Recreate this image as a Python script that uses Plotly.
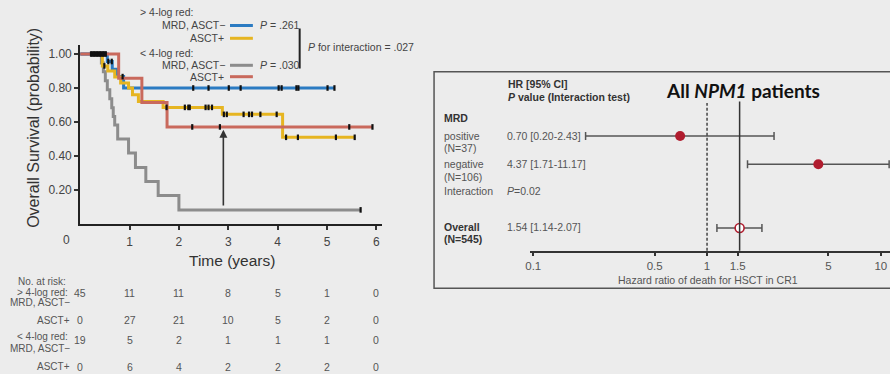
import numpy as np
import plotly.graph_objects as go

W, H = 890, 374
BG = "#ececec"
SANS = "Liberation Sans, Arial, sans-serif"

# ---------------- Kaplan-Meier data ----------------
blue_t = [0.0, 0.55, 0.65, 0.74, 0.88, 5.15]
blue_s = [1.0, 0.956, 0.911, 0.867, 0.800, 0.800]
blue_cens = [0.22, 0.25, 0.28, 0.31, 0.34, 0.37, 0.40, 0.43, 0.46, 0.49, 0.52,
             0.57, 0.64, 0.86, 2.29, 2.60, 3.01, 3.25, 4.02, 4.08, 4.38, 4.42, 5.01, 5.15]

yellow_t = [0.44, 0.45, 0.56, 0.70, 0.82, 0.98, 1.06, 1.18, 1.68, 2.88, 4.10, 5.56]
yellow_s = [1.0, 0.93, 0.90, 0.865, 0.83, 0.80, 0.76, 0.72, 0.686, 0.645, 0.51, 0.51]
yellow_cens = [0.49, 1.75, 2.12, 2.19, 2.22, 2.54, 2.60, 2.67, 2.91, 2.97, 3.31, 3.42,
               3.48, 3.65, 3.98, 4.17, 4.41, 5.18, 5.56]

gray_t = [0.0, 0.43, 0.47, 0.51, 0.55, 0.60, 0.64, 0.67, 0.70, 0.76, 0.98, 1.12,
          1.33, 1.58, 2.0, 5.68]
gray_s = [1.0, 0.947, 0.895, 0.842, 0.789, 0.737, 0.684, 0.632, 0.583, 0.5, 0.417,
          0.333, 0.25, 0.167, 0.083, 0.083]
gray_cens = [5.68]

red_t = [0.0, 0.78, 1.25, 1.76, 5.92]
red_s = [1.0, 0.857, 0.714, 0.571, 0.571]
red_cens = [2.27, 2.83, 5.45, 5.92]

risk_times = [0, 1, 2, 3, 4, 5, 6]
risk_rows = [
    [45, 11, 11, 8, 5, 1, 0],
    [0, 27, 21, 10, 5, 2, 0],
    [19, 5, 2, 1, 1, 1, 0],
    [0, 6, 4, 2, 2, 2, 0],
]
km_yticks = [0.2, 0.4, 0.6, 0.8, 1.0]
km_xticks = [1, 2, 3, 4, 5, 6]

# ---------------- Forest plot data ----------------
f_hr = [0.70, 4.37, 1.54]
f_lo = [0.20, 1.71, 1.14]
f_hi = [2.43, 11.17, 2.07]
f_ticks = [0.1, 0.5, 1, 1.5, 5, 10]
f_ref = 1

C_BLUE = "#2b7bc2"
C_YEL = "#e6b521"
C_GRAY = "#8c8c8c"
C_RED = "#c9695c"
C_DOT = "#b01c2e"


def px(x):
    return x / W


def py(y):
    return 1 - y / H


def step_at(ts, ss, t):
    i = np.searchsorted(np.array(ts), t, side="right") - 1
    return ss[max(i, 0)]


fig = go.Figure()

for ts, ss, col in [(gray_t, gray_s, C_GRAY), (blue_t, blue_s, C_BLUE),
                    (yellow_t, yellow_s, C_YEL), (red_t, red_s, C_RED)]:
    fig.add_trace(go.Scatter(x=ts, y=ss, mode="lines", line=dict(color=col, width=3, shape="hv"),
                             xaxis="x", yaxis="y", hoverinfo="skip"))

for ts, ss, cens in [(gray_t, gray_s, gray_cens), (blue_t, blue_s, blue_cens),
                     (yellow_t, yellow_s, yellow_cens), (red_t, red_s, red_cens)]:
    fig.add_trace(go.Scatter(x=cens, y=[step_at(ts, ss, c) for c in cens], mode="markers",
                             marker=dict(symbol="line-ns-open", size=4, color="#111",
                                         line=dict(color="#111", width=2.2)),
                             xaxis="x", yaxis="y", hoverinfo="skip", cliponaxis=False))

# forest traces
row_y = [3, 2, -0.25]
fig.add_trace(go.Scatter(
    x=f_hr[:2], y=row_y[:2], mode="markers",
    marker=dict(color=C_DOT, size=10),
    error_x=dict(type="data", symmetric=False,
                 array=[h - m for h, m in zip(f_hi[:2], f_hr[:2])],
                 arrayminus=[m - l for m, l in zip(f_hr[:2], f_lo[:2])],
                 color="#555", thickness=1.5, width=4),
    xaxis="x2", yaxis="y2", hoverinfo="skip", cliponaxis=False))
fig.add_trace(go.Scatter(
    x=f_hr[2:], y=row_y[2:], mode="markers",
    marker=dict(color="white", size=9, line=dict(color=C_DOT, width=1.6)),
    error_x=dict(type="data", symmetric=False,
                 array=[f_hi[2] - f_hr[2]], arrayminus=[f_hr[2] - f_lo[2]],
                 color="#555", thickness=1.5, width=4),
    xaxis="x2", yaxis="y2", hoverinfo="skip", cliponaxis=False))

ann = []


def txt(x, y, s, size=10.5, color="#444", xanchor="left", family=SANS, **kw):
    ann.append(dict(x=px(x), y=py(y), xref="paper", yref="paper", text=s, showarrow=False,
                    xanchor=xanchor, yanchor="middle", font=dict(size=size, color=color, family=family), **kw))


# KM legend
txt(135, 12, "&gt; 4-log red:")
txt(224, 25, "MRD, ASCT−", xanchor="right")
txt(255, 25, "<i>P</i> = .261")
txt(223, 38, "ASCT+", xanchor="right")
txt(135, 52.5, "&lt; 4-log red:")
txt(224, 65, "MRD, ASCT−", xanchor="right")
txt(255, 65, "<i>P</i> = .030")
txt(223, 76.5, "ASCT+", xanchor="right")
txt(303, 47.5, "<i>P</i> for interaction = .027")

shapes = []
for yy, col in [(25.5, C_BLUE), (38.3, C_YEL), (65.3, C_GRAY), (76.7, C_RED)]:
    shapes.append(dict(type="line", xref="paper", yref="paper", x0=px(227), x1=px(250), y0=py(yy), y1=py(yy),
                       line=dict(color=col, width=3)))
shapes.append(dict(type="line", xref="paper", yref="paper", x0=px(297), x1=px(297), y0=py(28.5), y1=py(68.5),
                   line=dict(color="#222", width=2)))

# KM titles
ann.append(dict(x=px(29), y=py(128), xref="paper", yref="paper", text="Overall Survival (probability)",
                textangle=-90, showarrow=False, xanchor="center", yanchor="middle",
                font=dict(size=16, color="#333", family=SANS)))
txt(229, 260, "Time (years)", size=15.5, color="#333", xanchor="center")
ann.append(dict(x=0, y=0, xref="x", yref="y", text="0", showarrow=False, xshift=-14, yshift=-16,
                xanchor="center", yanchor="middle", font=dict(size=12, color="#444", family=SANS)))

# arrow
ann.append(dict(x=2.9, y=0.555, ax=2.9, ay=0.1, xref="x", yref="y", axref="x", ayref="y", text="",
                showarrow=True, arrowhead=2, arrowsize=1, arrowwidth=1.6, arrowcolor="#333"))

# number at risk
RC = "#555"
txt(64, 281.7, "No. at risk:", size=10, color=RC, xanchor="right")
txt(66, 292.3, "&gt; 4-log red:", size=10, color=RC, xanchor="right")
txt(68, 302.7, "MRD, ASCT−", size=10, color=RC, xanchor="right")
txt(68, 320, "ASCT+", size=10, color=RC, xanchor="right")
txt(66, 336.2, "&lt; 4-log red:", size=10, color=RC, xanchor="right")
txt(68, 348.5, "MRD, ASCT−", size=10, color=RC, xanchor="right")
txt(68, 366.7, "ASCT+", size=10, color=RC, xanchor="right")
for row, yy in zip(risk_rows, [293.3, 320, 339.5, 366.7]):
    for t, n in zip(risk_times, row):
        ann.append(dict(x=t, y=py(yy), xref="x", yref="paper", text=str(n), showarrow=False,
                        xanchor="center", yanchor="middle", font=dict(size=10.5, color=RC, family=SANS)))

# Forest panel
shapes.append(dict(type="rect", xref="paper", yref="paper", x0=px(432), x1=px(896), y0=py(71.7), y1=py(288.3),
                   line=dict(color="#555", width=1.5), layer="below"))
shapes.append(dict(type="line", xref="x2", yref="y2 domain", x0=f_ref, x1=f_ref, y0=0, y1=1,
                   line=dict(color="#444", width=1.5, dash="3px,2px")))
shapes.append(dict(type="line", xref="x2", yref="y2 domain", x0=f_hr[2], x1=f_hr[2],
                   y0=0, y1=1.01, line=dict(color="#333", width=1.5)))

FC = "#555"
txt(504, 84, "<b>HR [95% CI]</b>", size=10.5, color="#333")
txt(504, 96.5, "<b><i>P</i> value (Interaction test)</b>", size=10.5, color="#333")
txt(742, 90.5, "<b>All <i>NPM1</i> patients</b>", size=19, color="#111", xanchor="center", family="Lato, sans-serif")
txt(440, 118, "<b>MRD</b>", size=10.5, color="#333")
txt(440, 136, "positive", size=10.5, color=FC)
txt(440, 148.3, "(N=37)", size=10.5, color=FC)
txt(440, 164.3, "negative", size=10.5, color=FC)
txt(440, 176.7, "(N=106)", size=10.5, color=FC)
txt(440, 191, "Interaction", size=10.5, color=FC)
txt(503, 191, "<i>P</i>=0.02", size=10.5, color=FC)
txt(440, 227.3, "<b>Overall</b>", size=10.5, color="#333")
txt(440, 239, "<b>(N=545)</b>", size=10.5, color="#333")
for h, l, u, yy in zip(f_hr, f_lo, f_hi, [136, 164.3, 227.3]):
    txt(503, yy, f"{h:.2f} [{l:.2f}-{u:.2f}]", size=10.5, color=FC)
txt(706.7, 280, "Hazard ratio of death for HSCT in CR1", size=10.5, color=FC, xanchor="center")

fig.update_layout(
    width=W, height=H, margin=dict(l=0, r=0, t=0, b=0),
    paper_bgcolor=BG, plot_bgcolor=BG, showlegend=False,
    xaxis=dict(domain=[px(76.5), px(380)], range=[0, (380 - 76.5) / 49.6], tickvals=km_xticks,
               ticks="outside", ticklen=4, tickwidth=1.5, tickcolor="#333", showline=True,
               linecolor="#222", linewidth=2, showgrid=False, zeroline=False, anchor="y",
               tickfont=dict(size=12, color="#444", family=SANS), ticklabelstandoff=2),
    yaxis=dict(domain=[py(224), py(45)], range=[0, (224 - 45) / 170], tickvals=km_yticks,
               ticktext=[f"{v:.2f}" for v in km_yticks], ticks="outside", ticklen=4, tickwidth=1.5,
               tickcolor="#333", showline=True, linecolor="#222", linewidth=2, showgrid=False,
               zeroline=False, anchor="x", tickfont=dict(size=12, color="#444", family=SANS)),
    xaxis2=dict(type="log", domain=[px(528), px(890)], range=[-1.021, 1.053], tickvals=f_ticks,
                ticktext=[str(v) for v in f_ticks], ticks="outside", ticklen=4, tickwidth=1.5,
                tickcolor="#333", showline=True, linecolor="#333", linewidth=1.5, showgrid=False,
                zeroline=False, anchor="y2", tickfont=dict(size=11.5, color=FC, family=SANS)),
    yaxis2=dict(domain=[py(250.7), py(103)], range=[-1.053, 4.166], visible=False, anchor="x2"),
    annotations=ann, shapes=shapes,
)

fig.write_html("out.html")
